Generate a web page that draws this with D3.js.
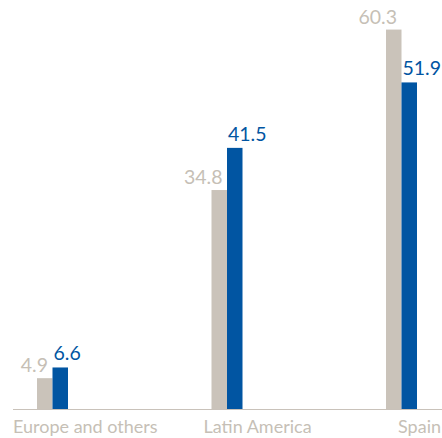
<!DOCTYPE html>
<html>
<head>
<meta charset="utf-8">
<script src="https://cdn.jsdelivr.net/npm/d3@7"></script>
<style>
  body { margin: 0; background: #fff; }
  svg text { font-family: Lato, "Open Sans", sans-serif; }
</style>
</head>
<body>
<svg id="main-chart"></svg>
<script>
const categories = ["Europe and others", "Latin America", "Spain"];
const greyValues = [4.9, 34.8, 60.3];
const blueValues = [6.6, 41.5, 51.9];

const width = 442;
const height = 438;
const margin = ({top: 0, right: 0, bottom: 29, left: 13});
const barW = 15.5;

const grey = "#cac3ba";
const blue = "#0155a2";

const x = d3.scalePoint()
  .domain(categories)
  .range([52.5, 401.5]);

const y = d3.scaleLinear()
  .domain([0, 65])
  .range([height - margin.bottom, margin.top]);

const svg = d3.select("#main-chart")
  .attr("width", width)
  .attr("height", height);

const rows = categories.map((c, i) => ({cat: c, g: greyValues[i], b: blueValues[i], i: i}));

// bars
svg.selectAll(".grey-bar")
  .data(rows)
  .join("rect")
  .attr("class", "grey-bar")
  .attr("fill", grey)
  .attr("x", d => x(d.cat) - barW)
  .attr("y", d => y(d.g))
  .attr("width", barW)
  .attr("height", d => y(0) - y(d.g));

svg.selectAll(".blue-bar")
  .data(rows)
  .join("rect")
  .attr("class", "blue-bar")
  .attr("fill", blue)
  .attr("x", d => x(d.cat))
  .attr("y", d => y(d.b))
  .attr("width", barW)
  .attr("height", d => y(0) - y(d.b));

// baseline
svg.append("line")
  .attr("x1", margin.left)
  .attr("x2", width)
  .attr("y1", y(0) + 0.5)
  .attr("y2", y(0) + 0.5)
  .attr("stroke", "#c9c2ba")
  .attr("stroke-width", 1.2);

// value labels
svg.selectAll(".grey-label")
  .data(rows)
  .join("text")
  .attr("class", "grey-label")
  .attr("x", d => x(d.cat) - 4.5)
  .attr("y", d => y(d.g) - 6)
  .attr("text-anchor", "end")
  .attr("font-size", 19.5)
  .attr("fill", "#c6bfb6")
  .text(d => d.g.toFixed(1));

svg.selectAll(".blue-label")
  .data(rows)
  .join("text")
  .attr("class", "blue-label")
  .attr("x", d => d.i === rows.length - 1 ? width - 1 : x(d.cat) + 1)
  .attr("y", d => y(d.b) - 7)
  .attr("text-anchor", d => d.i === rows.length - 1 ? "end" : "start")
  .attr("font-size", 19.5)
  .attr("fill", blue)
  .text(d => d.b.toFixed(1));

// category labels
svg.selectAll(".cat-label")
  .data(rows)
  .join("text")
  .attr("class", "cat-label")
  .attr("x", d => d.i === 0 ? margin.left : d.i === rows.length - 1 ? width - 1 : x(d.cat) - barW - 8)
  .attr("y", height - 5)
  .attr("text-anchor", d => d.i === rows.length - 1 ? "end" : "start")
  .attr("font-size", 18)
  .attr("fill", "#c6bfb6")
  .text(d => d.cat);
</script>
</body>
</html>
